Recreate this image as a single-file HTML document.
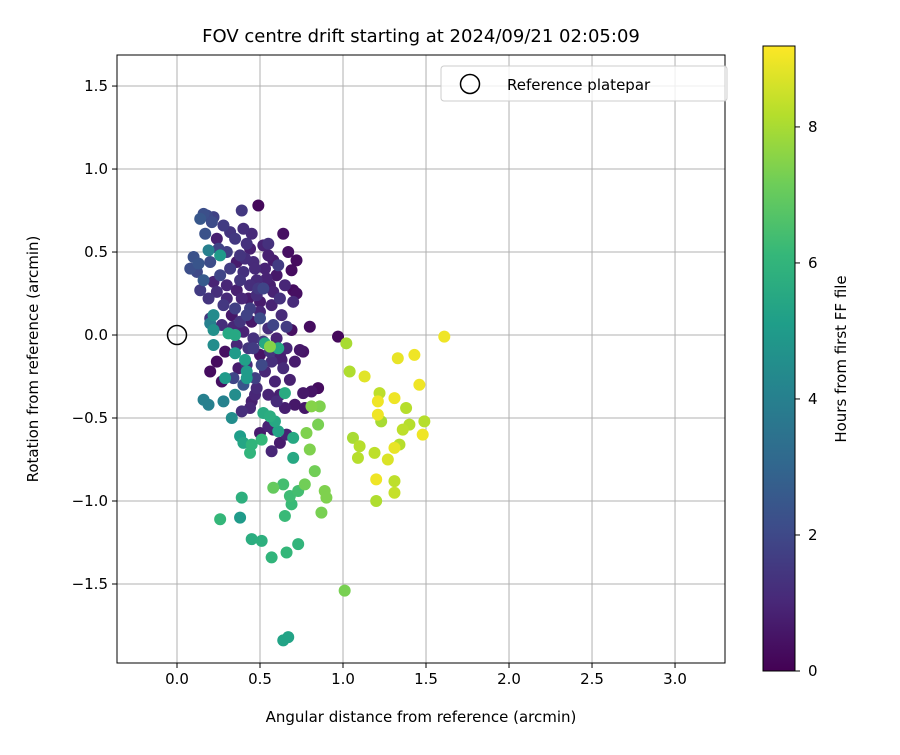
<!DOCTYPE html>
<html><head><meta charset="utf-8"><style>
body{margin:0;background:#fff;font-family:"Liberation Sans","DejaVu Sans",sans-serif;}
text{font-family:"DejaVu Sans","Liberation Sans",sans-serif;}
</style></head><body>
<svg id="c" width="900" height="750"></svg>
<script>
const xTicks=[0.0,0.5,1.0,1.5,2.0,2.5,3.0];
const yTicks=[-1.5,-1.0,-0.5,0.0,0.5,1.0,1.5];
const cbTicks=[0,2,4,6,8];
const ptsX=[1.61,1.43,1.33,1.46,1.21,1.31,1.21,1.27,1.20,1.48,1.31,1.13,
1.02,1.04,1.06,1.10,1.09,1.23,1.19,1.20,1.31,1.31,1.34,1.38,1.40,1.36,1.49,1.22,
1.01,0.89,0.90,0.87,0.83,0.85,0.86,0.81,0.78,0.80,0.77,0.58,0.56,
0.64,0.68,0.69,0.73,0.65,0.73,0.66,0.57,0.51,0.45,0.26,0.39,0.38,0.67,0.64,0.70,0.70,0.51,0.45,0.44,0.38,0.40,0.56,0.52,0.59,0.61,0.65,0.33,0.28,0.19,0.16,0.35,0.42,0.29,0.35,0.41,0.31,0.35,0.22,0.20,0.22,0.22,0.26,0.19,0.53,0.61,0.42,
0.49,0.39,0.64,0.67,0.72,0.69,0.70,0.72,0.69,0.80,0.97,0.74,0.76,0.85,0.76,0.81,0.71,0.77,0.65,0.62,0.68,0.71,0.63,0.50,0.58,0.66,0.44,0.47,0.55,
0.16,0.18,0.14,0.22,0.28,0.21,0.32,0.40,0.45,0.52,0.55,0.42,0.35,0.17,0.10,0.08,0.13,0.20,0.25,0.30,0.38,0.46,0.53,0.58,0.60,0.56,0.48,0.40,0.32,0.26,0.16,0.12,0.14,0.19,0.24,0.30,0.36,0.43,0.50,0.57,0.63,0.62,0.66,0.58,0.50,0.42,0.35,0.28,0.20,0.27,0.34,0.40,0.46,0.52,0.60,0.66,0.64,0.57,0.50,0.43,0.36,0.29,0.24,0.20,0.27,0.34,0.40,0.47,0.53,0.59,0.45,0.39,0.60,0.55,0.62,0.57,0.48,0.38,0.44,0.65,0.70,0.55,0.61,0.30,0.22,0.24,
0.45,0.50,0.55,0.38,0.44,0.52,0.58,0.47,0.41,0.36,0.54,0.49,0.44,0.39,0.33,0.46,0.51,0.56,0.62,0.48,0.42,0.37,0.31,0.27,0.53,0.45,0.40,0.57,0.50,0.35,0.43,0.48,0.60,0.32,0.26,0.38,0.54,0.46,0.41,0.58];
const ptsY=[-0.01,-0.12,-0.14,-0.30,-0.40,-0.38,-0.48,-0.75,-0.87,-0.60,-0.68,-0.25,
-0.05,-0.22,-0.62,-0.67,-0.74,-0.52,-0.71,-1.00,-0.88,-0.95,-0.66,-0.44,-0.54,-0.57,-0.52,-0.35,
-1.54,-0.94,-0.98,-1.07,-0.82,-0.54,-0.43,-0.43,-0.59,-0.69,-0.90,-0.92,-0.07,
-0.90,-0.97,-1.02,-0.94,-1.09,-1.26,-1.31,-1.34,-1.24,-1.23,-1.11,-0.98,-1.10,-1.82,-1.84,-0.62,-0.74,-0.63,-0.66,-0.71,-0.61,-0.65,-0.49,-0.47,-0.52,-0.58,-0.35,-0.50,-0.40,-0.42,-0.39,-0.36,-0.26,-0.26,-0.11,-0.15,0.01,0.00,-0.06,0.07,0.12,0.03,0.48,0.51,-0.05,-0.08,-0.22,
0.78,0.75,0.61,0.50,0.45,0.39,0.27,0.25,0.03,0.05,-0.01,-0.09,-0.10,-0.32,-0.35,-0.34,-0.42,-0.44,-0.44,-0.36,-0.27,-0.16,-0.15,-0.59,-0.57,-0.60,-0.44,-0.36,-0.36,
0.73,0.72,0.70,0.71,0.66,0.68,0.62,0.64,0.61,0.54,0.48,0.55,0.58,0.61,0.47,0.40,0.43,0.44,0.52,0.50,0.48,0.44,0.40,0.45,0.36,0.30,0.33,0.38,0.40,0.36,0.33,0.38,0.27,0.22,0.26,0.30,0.27,0.22,0.20,0.18,0.12,0.22,0.05,0.06,0.10,0.12,0.16,0.18,0.10,0.06,0.05,0.02,-0.02,-0.04,-0.02,-0.08,-0.20,-0.16,-0.12,-0.08,-0.06,-0.10,-0.16,-0.22,-0.28,-0.26,-0.30,-0.26,-0.22,-0.28,-0.40,-0.46,-0.40,-0.55,-0.65,-0.70,0.24,0.33,0.52,0.30,0.20,0.55,0.42,0.22,0.32,0.58,
0.08,0.14,0.04,0.08,0.16,0.28,0.26,0.40,0.46,0.44,0.34,0.28,0.30,0.22,0.12,-0.08,-0.18,-0.10,-0.12,-0.32,-0.18,-0.20,0.02,0.04,0.46,0.58,0.18,0.02,0.36,0.38,0.00,-0.20,0.28,-0.14,0.14,0.10,-0.30,0.16,0.50,-0.04];
const ptsT=[9,9,8.9,9,9,9,9,8.7,9,9,8.9,8.8,
8,8.1,8,8.2,8.2,8,8.3,8.1,8.3,8.4,8.2,8.2,8.2,8.3,8.2,8.3,
7.3,7.4,7.4,7.3,7.2,7.3,7.4,7.5,7.4,7.4,7.2,7.0,7.5,
6.4,6.3,6.2,6.4,6.2,6.0,6.1,6.0,5.8,5.7,6.1,5.8,5.0,5.3,5.3,5.5,5.5,6.1,6.0,6.0,5.1,5.4,5.7,5.6,5.5,5.3,5.6,4.5,4.1,4.0,4.0,4.5,5.0,5.0,5.0,5.2,5.5,5.5,4.5,4.0,4.4,4.6,5.0,4.0,5.5,5.5,5.0,
0.2,1.5,0.4,0.4,0.3,0.3,0.3,0.4,0.4,0.3,0.2,0.6,0.5,0.3,0.6,0.5,0.6,0.6,0.8,0.8,0.8,0.7,0.8,0.7,0.8,0.9,1.0,1.0,0.9,
2.2,2.0,2.5,1.8,1.6,2.1,1.4,1.2,1.1,0.9,0.8,1.3,1.5,2.3,2.3,2.2,2.4,2.1,1.8,1.7,1.4,1.1,0.9,0.7,0.6,0.8,1.1,1.3,1.6,1.9,2.6,2.0,1.6,1.4,1.2,1.0,0.8,0.7,0.7,0.9,1.1,1.3,1.6,1.9,2.1,1.8,1.7,1.5,1.4,1.2,1.0,0.9,1.3,1.6,0.9,1.0,1.1,1.2,0.5,1.4,1.0,0.4,0.3,0.3,0.4,1.9,2.4,1.7,
1.0,0.9,0.8,1.2,1.1,0.9,0.7,1.0,1.2,1.4,0.8,1.0,1.1,1.3,1.6,1.1,0.9,0.8,0.6,1.0,1.2,1.4,1.7,1.9,0.9,1.1,1.2,0.7,0.9,1.5,1.2,1.0,0.6,1.6,2.0,1.4,0.8,1.1,1.2,0.7];
const cbMax=9.19;
const NS="http://www.w3.org/2000/svg";
const svg=document.getElementById('c');
const L=117,R=725,T=55,B=663,xMin=-0.3614,xMax=3.301,yMin=-1.976,yMax=1.687;
const sx=v=>L+(v-xMin)/(xMax-xMin)*(R-L);
const sy=v=>B-(v-yMin)/(yMax-yMin)*(B-T);
const cbL=763,cbR=795,cbT=46,cbB=671;
const cy=v=>cbB-v/cbMax*(cbB-cbT);
function mk(tag,at,parent){const e=document.createElementNS(NS,tag);for(const k in at)e.setAttribute(k,at[k]);(parent||svg).appendChild(e);return e;}
const vir=[[68,1,84],[72,40,120],[62,74,137],[49,104,142],[38,130,142],[31,158,137],[53,183,121],[109,205,89],[180,222,44],[253,231,37]];
function col(t){let f=Math.max(0,Math.min(1,t/cbMax))*(vir.length-1);let i=Math.min(vir.length-2,Math.floor(f)),r=f-i;const a=vir[i],b=vir[i+1];return `rgb(${a.map((v,k)=>Math.round(v+(b[k]-v)*r)).join(',')})`;}
xTicks.forEach(v=>{const l=mk('line',{x1:sx(v),x2:sx(v),y1:T,y2:B,stroke:'#b0b0b0','stroke-width':1});});
yTicks.forEach(v=>{const l=mk('line',{x1:L,x2:R,y1:sy(v),y2:sy(v),stroke:'#b0b0b0','stroke-width':1});});
const idx=ptsT.map((t,i)=>i).sort((a,b)=>ptsT[a]-ptsT[b]);
idx.forEach(i=>{const c=mk('circle',{cx:sx(ptsX[i]),cy:sy(ptsY[i]),r:6,fill:col(ptsT[i])});});
const rf=mk('circle',{cx:sx(0),cy:sy(0),r:9.5,fill:'none',stroke:'#000','stroke-width':1.5});
const fr=mk('rect',{x:L,y:T,width:R-L,height:B-T,fill:'none',stroke:'#000','stroke-width':1});
xTicks.forEach(v=>{mk('line',{x1:sx(v),x2:sx(v),y1:B,y2:B+5,stroke:'#000'});const t=mk('text',{x:sx(v),y:B+21,'text-anchor':'middle','font-size':15});t.textContent=v.toFixed(1);});
yTicks.forEach(v=>{mk('line',{x1:L-5,x2:L,y1:sy(v),y2:sy(v),stroke:'#000'});const t=mk('text',{x:L-9,y:sy(v)+5,'text-anchor':'end','font-size':15});t.textContent=(v<0?'\u2212':'')+Math.abs(v).toFixed(1);});
let t=mk('text',{x:421,y:42,'text-anchor':'middle','font-size':18});t.textContent='FOV centre drift starting at 2024/09/21 02:05:09';
t=mk('text',{x:421,y:722,'text-anchor':'middle','font-size':15});t.textContent='Angular distance from reference (arcmin)';
t=mk('text',{x:38,y:359,'text-anchor':'middle','font-size':15,transform:'rotate(-90 38 359)'});t.textContent='Rotation from reference (arcmin)';
const lg=mk('g',{});
mk('rect',{x:441,y:66,width:286,height:35,rx:3,fill:'#fff','fill-opacity':0.8,stroke:'#ccc'},lg);
mk('circle',{cx:470,cy:84,r:9.5,fill:'none',stroke:'#000','stroke-width':1.5},lg);
t=mk('text',{x:507,y:90,'font-size':15},lg);t.textContent='Reference platepar';
const defs=mk('defs',{});const gr=mk('linearGradient',{id:'vg',x1:0,y1:1,x2:0,y2:0},defs);
vir.forEach((c,i)=>mk('stop',{offset:i/(vir.length-1),'stop-color':`rgb(${c.join(',')})`},gr));
const cb=mk('rect',{x:cbL,y:cbT,width:cbR-cbL,height:cbB-cbT,fill:'url(#vg)',stroke:'#000'});
cbTicks.forEach(v=>{mk('line',{x1:cbR,x2:cbR+5,y1:cy(v),y2:cy(v),stroke:'#000'});const tt=mk('text',{x:cbR+13,y:cy(v)+5,'font-size':15});tt.textContent=v;});
t=mk('text',{x:846,y:359,'text-anchor':'middle','font-size':15,transform:'rotate(-90 846 359)'});t.textContent='Hours from first FF file';
</script>
</body></html>
